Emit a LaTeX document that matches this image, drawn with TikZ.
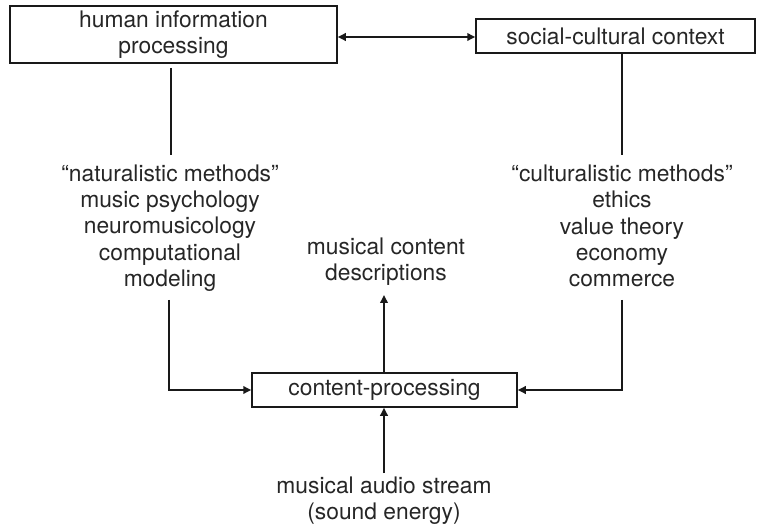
\documentclass[tikz,border=0pt]{standalone}
\usepackage{fontspec}
\setmainfont{TeX Gyre Heros}
\usetikzlibrary{arrows.meta}
\begin{document}
\begin{tikzpicture}[x=1pt,y=-1pt,
  every node/.style={font=\fontsize{22.8}{26.2}\selectfont, align=center, inner sep=0pt, text=black!85},
  box/.style={draw=black!90, line width=1.5pt, rectangle},
  link/.style={draw=black!90, line width=1.8pt},
  tip/.style={-{Triangle[length=8pt,width=7.5pt]}},
  tips/.style={{Triangle[length=8pt,width=7.5pt]}-{Triangle[length=8pt,width=7.5pt]}}]
  \useasboundingbox (0,0) rectangle (758,529);

  % boxes
  \node[box, minimum width=327pt, minimum height=57pt] (hip) at (173.5,34.5) {human information\\processing};
  \node[box, minimum width=279pt, minimum height=34pt] (scc) at (615.5,36) {social-cultural context};
  \node[box, minimum width=265pt, minimum height=34pt] (cp) at (384.5,390) {content-processing};

  % text blocks
  \node (nat) at (170,228) {“naturalistic methods”\\music psychology\\neuromusicology\\computational\\modeling};
  \node (cul) at (622,226) {“culturalistic methods”\\ethics\\value theory\\economy\\commerce};
  \node (mcd) at (386,262) {musical content\\descriptions};
  \node (mas) at (384,501) {musical audio stream\\(sound energy)};

  % anchor points on the lines
  \coordinate (natTop) at (171,155);
  \coordinate (natBot) at (169,300);
  \coordinate (culTop) at (622,155);
  \coordinate (culBot) at (622,300);

  % connectors
  \draw[link, tips] (hip.east |- 0,37) -- (scc.west |- 0,37);
  \draw[link] (natTop |- 0,68) -- (natTop);
  \draw[link] (scc.south -| culTop) -- (culTop);
  \draw[link, tip] (natBot) |- (cp.west);
  \draw[link, tip] (culBot) |- (cp.east);
  \draw[link, tip] (cp.north -| 384,0) -- (384,295);
  \draw[link, tip] (384,473) -- (cp.south -| 384,0);
\end{tikzpicture}
\end{document}
